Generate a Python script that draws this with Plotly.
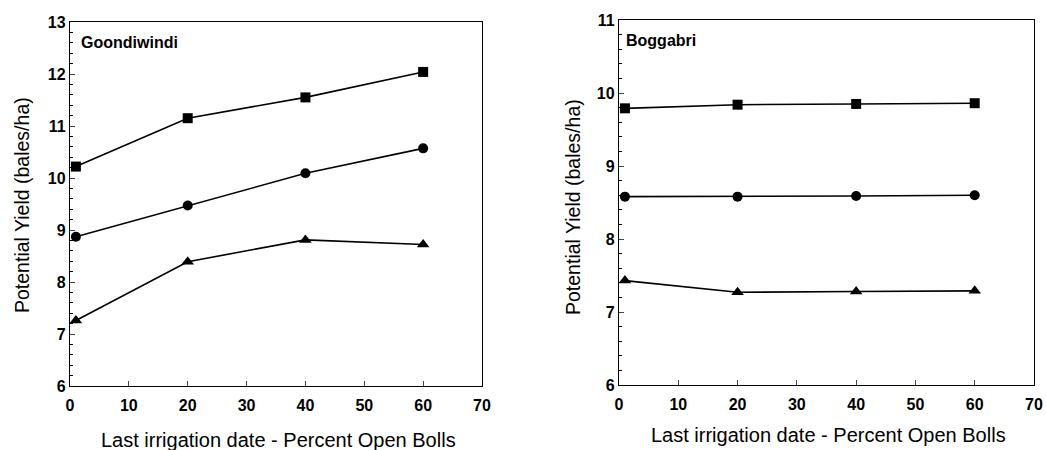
import plotly.graph_objects as go

# percent open bolls at last irrigation
pct_open = [1, 20, 40, 60]

# Goondiwindi potential yield (bales/ha)
goon_square = [10.22, 11.15, 11.55, 12.04]
goon_circle = [8.87, 9.47, 10.09, 10.57]
goon_triangle = [7.26, 8.39, 8.81, 8.72]

# Boggabri potential yield (bales/ha)
bogg_square = [9.79, 9.84, 9.85, 9.86]
bogg_circle = [8.58, 8.58, 8.59, 8.60]
bogg_triangle = [7.43, 7.27, 7.28, 7.29]

W, H = 1046, 450
FONT = "Arial, Liberation Sans, sans-serif"


def px_x(p):
    return p / W


def px_y(p):
    return 1 - p / H


fig = go.Figure()

series = [
    ("x", "y", goon_square, "square"),
    ("x", "y", goon_circle, "circle"),
    ("x", "y", goon_triangle, "triangle-up"),
    ("x2", "y2", bogg_square, "square"),
    ("x2", "y2", bogg_circle, "circle"),
    ("x2", "y2", bogg_triangle, "triangle-up"),
]
for xa, ya, vals, sym in series:
    fig.add_trace(go.Scatter(
        x=pct_open, y=vals, xaxis=xa, yaxis=ya, mode="lines+markers",
        line=dict(color="black", width=1.6),
        marker=dict(symbol=sym, size=10 if sym != "triangle-up" else 11, color="black"),
        showlegend=False, cliponaxis=False))

tickfont = dict(family=FONT, size=16, color="black", weight="bold")
xcommon = dict(range=[0, 70], dtick=10, ticks="inside", ticklen=5, tickwidth=1.3,
               showline=True, mirror=True, linecolor="black", linewidth=1.3,
               showgrid=False, zeroline=False, automargin=False, tickfont=tickfont,
               ticklabelstandoff=5)
ycommon = dict(dtick=1, ticks="inside", ticklen=5, tickwidth=1.3,
               minor=dict(ticks="inside", dtick=0.2, ticklen=3, tickwidth=1, tickcolor="black"),
               showline=True, mirror=True, linecolor="black", linewidth=1.3,
               showgrid=False, zeroline=False, automargin=False, tickfont=tickfont)

fig.update_layout(
    width=W, height=H,
    margin=dict(l=0, r=0, t=0, b=0),
    paper_bgcolor="white", plot_bgcolor="white",
    xaxis=dict(domain=[px_x(70), px_x(482)], anchor="y", **xcommon),
    yaxis=dict(domain=[px_y(386), px_y(22)], range=[6, 13], anchor="x", **ycommon),
    xaxis2=dict(domain=[px_x(619), px_x(1034)], anchor="y2", **xcommon),
    yaxis2=dict(domain=[px_y(385), px_y(20)], range=[6, 11], anchor="x2", **ycommon),
)

ann = [
    dict(text="<b>Goondiwindi</b>", x=px_x(79), y=px_y(42), xanchor="left", size=16),
    dict(text="<b>Boggabri</b>", x=px_x(624), y=px_y(40), xanchor="left", size=16),
    dict(text="Last irrigation date - Percent Open Bolls", x=px_x(278), y=px_y(440), xanchor="center", size=20),
    dict(text="Last irrigation date - Percent Open Bolls", x=px_x(828), y=px_y(435), xanchor="center", size=20),
]
for a in ann:
    fig.add_annotation(text=a["text"], xref="paper", yref="paper", x=a["x"], y=a["y"],
                       xanchor=a["xanchor"], yanchor="middle", showarrow=False,
                       font=dict(family=FONT, size=a["size"], color="black"))

for x, y in [(22, 205), (573, 207)]:
    fig.add_annotation(text="Potential Yield (bales/ha)", xref="paper", yref="paper",
                       x=px_x(x), y=px_y(y), xanchor="center", yanchor="middle",
                       textangle=-90, showarrow=False,
                       font=dict(family=FONT, size=19.5, color="black"))

# page has a default body margin; drop it so the figure sits at the top-left corner
fig.write_html("out.html", config={"displayModeBar": False},
               post_script="document.body.style.margin='0';")
